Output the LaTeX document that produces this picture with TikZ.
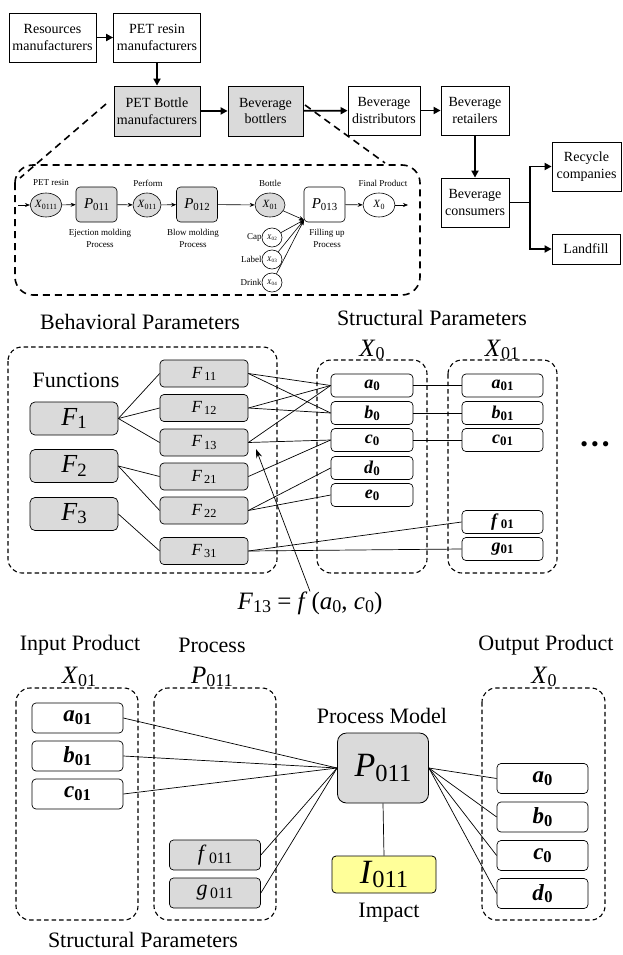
\documentclass[tikz,border=0pt]{standalone}
\usepackage{fontspec}
\setmainfont{Liberation Serif}
\usetikzlibrary{arrows.meta,shapes.geometric}
\definecolor{boxgray}{RGB}{218,218,218}
\definecolor{boxyellow}{RGB}{255,255,153}
\newcommand{\vv}[2]{\textit{#1}\raisebox{-0.12em}{\scalebox{0.72}{#2}}}
\newcommand{\vb}[2]{\textbf{\textit{#1}}\raisebox{-0.12em}{\scalebox{0.72}{\textbf{#2}}}}
\newcommand{\fs}[1]{\fontsize{#1}{#1}\selectfont}
\begin{document}
\begin{tikzpicture}[x=1pt,y=-1pt,
  chain/.style={draw, line width=0.8pt, align=center, inner sep=0pt, font=\fontsize{14}{16.5}\selectfont},
  chainarr/.style={line width=1.8pt, -{Triangle[length=7pt,width=7pt]}},
  pbox/.style={draw, line width=0.6pt, rounded corners=4pt, inner sep=0pt, minimum width=41pt, minimum height=35pt, font=\fs{15}},
  pell/.style={draw, line width=0.6pt, ellipse, inner sep=0pt, minimum width=28pt, minimum height=24pt, font=\fs{11}},
  sell/.style={draw, line width=0.6pt, ellipse, inner sep=0pt, minimum width=20pt, minimum height=19pt, font=\fs{7}},
  tinytxt/.style={font=\fontsize{9}{12.5}\selectfont, align=center, inner sep=0pt},
  parr/.style={line width=0.6pt, -{Stealth[length=5pt,width=4pt]}},
  dbox/.style={draw, dash pattern=on 4.5pt off 3pt, line width=1.1pt, rounded corners=14pt},
  bigdash/.style={draw, dash pattern=on 7pt off 5pt, line width=1.6pt},
  fbig/.style={draw, line width=0.7pt, fill=boxgray, rounded corners=5pt, minimum width=88pt, minimum height=33pt, inner sep=0pt, font=\fs{26}},
  fsmall/.style={draw, line width=0.7pt, fill=boxgray, rounded corners=4pt, minimum width=88pt, minimum height=27pt, inner sep=0pt, font=\fs{17}},
  var/.style={draw, line width=0.7pt, rounded corners=4pt, minimum width=82pt, minimum height=23pt, inner sep=0pt, font=\fs{18}},
  varb/.style={draw, line width=0.7pt, rounded corners=4pt, minimum width=91pt, minimum height=30pt, inner sep=0pt, font=\fs{23}},
  head/.style={font=\fs{22}, inner sep=0pt},
  xhead/.style={font=\fs{25}, inner sep=0pt},
  conn/.style={line width=0.7pt}
]
\useasboundingbox (0,0) rectangle (623,955);

% ---------------- supply chain ----------------
\node[chain, minimum width=87pt, minimum height=49pt] (res) at (52.5,37.5) {Resources\\manufacturers};
\node[chain, minimum width=87pt, minimum height=49pt] (resin) at (157,37.5) {PET resin\\manufacturers};
\node[chain, fill=boxgray, minimum width=86pt, minimum height=50pt] (petb) at (157,111) {PET Bottle\\manufacturers};
\node[chain, fill=boxgray, minimum width=75pt, minimum height=50pt] (bott) at (265.5,111) {Beverage\\bottlers};
\node[chain, minimum width=72pt, minimum height=49pt] (dist) at (384,110.5) {Beverage\\distributors};
\node[chain, minimum width=68pt, minimum height=49pt] (ret) at (475,110.5) {Beverage\\retailers};
\node[chain, minimum width=68pt, minimum height=49pt] (cons) at (475,202.5) {Beverage\\consumers};
\node[chain, minimum width=69pt, minimum height=49pt] (rec) at (586.5,166.5) {Recycle\\companies};
\node[chain, minimum width=68pt, minimum height=30pt] (land) at (586,249) {Landfill};
\coordinate (br) at (530,202.5);

\draw[chainarr] (res) -- (resin);
\draw[chainarr] (resin) -- (petb);
\draw[chainarr] (petb) -- (bott);
\draw[chainarr] (bott) -- (dist);
\draw[chainarr] (dist) -- (ret);
\draw[chainarr] (ret) -- (cons);
\draw[line width=1.8pt] (cons.east) -- (br);
\draw[chainarr] (br) |- (rec.west);
\draw[chainarr] (br) |- (land.west);

% zoom lines and process box
\coordinate (zl1) at (106,104);
\coordinate (zl2) at (20,178);
\coordinate (zr1) at (305,105);
\coordinate (zr2) at (385,163);
\draw[bigdash] (zl1) -- (zl2);
\draw[bigdash] (zr1) -- (zr2);
\draw[bigdash, rounded corners=18pt] (15,165) rectangle (420,295);

% process chain
\coordinate (pin) at (18,205);
\node[pell, fill=boxgray] (xin) at (46,205) {\vv{X}{0111}};
\node[pbox, fill=boxgray] (p011) at (96.5,204.5) {\vv{P}{011}};
\node[pell, fill=boxgray] (x011) at (147,205) {\vv{X}{011}};
\node[pbox, fill=boxgray] (p012) at (197,204.5) {\vv{P}{012}};
\node[pell, fill=boxgray, minimum width=30pt] (x01) at (270,205) {\vv{X}{01}};
\node[pbox, fill=white] (p013) at (324.5,204.5) {\vv{P}{013}};
\node[pell, fill=white, minimum width=32pt] (x0) at (379,205) {\vv{X}{0}};
\coordinate (pout) at (408,205);
\coordinate (conv) at (304,220);
\node[sell] (x02) at (272,237.5) {\vv{X}{02}};
\node[sell] (x03) at (272,259.5) {\vv{X}{03}};
\node[sell] (x04) at (272,282.5) {\vv{X}{04}};
\node[tinytxt, anchor=east] (lcap) at (x02.west) {Cap};
\node[tinytxt, anchor=east] (llab) at (x03.west) {Label};
\node[tinytxt, anchor=east] (ldri) at (x04.west) {Drink};

\node[tinytxt] (tpet) at (51,183) {PET resin};
\node[tinytxt] (tperf) at (148,183) {Perform};
\node[tinytxt] (tbot) at (270,183) {Bottle};
\node[tinytxt] (tfin) at (383,183) {Final Product};
\node[tinytxt] (tej) at (100,238.5) {Ejection molding\\Process};
\node[tinytxt] (tbl) at (193,238.5) {Blow molding\\Process};
\node[tinytxt] (tfil) at (327,238.5) {Filling up\\Process};

\draw[parr] (pin) -- (xin);
\draw[parr] (xin) -- (p011);
\draw[parr] (p011) -- (x011);
\draw[parr] (x011) -- (p012);
\draw[parr] (p012) -- (x01);
\draw[parr] (x01) -- (conv);
\draw[parr] (x02) -- (conv);
\draw[parr] (x03) -- (conv);
\draw[parr] (x04) -- (conv);
\draw[parr] (p013) -- (x0);
\draw[parr] (x0) -- (pout);

% ---------------- behavioral / structural ----------------
\node[head] (hbeh) at (140,322) {Behavioral Parameters};
\node[head] (hstr) at (432,318) {Structural Parameters};
\node[xhead] (lx0) at (372,350) {\vv{X}{0}};
\node[xhead] (lx01) at (502,350) {\vv{X}{01}};
\draw[dbox] (8,347) rectangle (277,573);
\draw[dbox] (317,360) rectangle (427,573);
\draw[dbox] (448,360) rectangle (557,573);

\node[head] (func) at (76,380) {Functions};
\node[fbig] (F1) at (74,418.5) {\vv{F}{1}};
\node[fbig] (F2) at (74,466) {\vv{F}{2}};
\node[fbig] (F3) at (74,514) {\vv{F}{3}};
\node[fsmall] (F11) at (204,373.5) {\vv{F}{\,11}};
\node[fsmall] (F12) at (204,408) {\vv{F}{\,12}};
\node[fsmall] (F13) at (204,442.5) {\vv{F}{\,13}};
\node[fsmall] (F21) at (204,476.5) {\vv{F}{\,21}};
\node[fsmall] (F22) at (204,510.5) {\vv{F}{\,22}};
\node[fsmall] (F31) at (204,551) {\vv{F}{\,31}};

\node[var] (a0) at (372,385.5) {\vb{a}{0}};
\node[var] (b0) at (372,413) {\vb{b}{0}};
\node[var] (c0) at (372,440) {\vb{c}{0}};
\node[var] (d0) at (372,468) {\vb{d}{0}};
\node[var] (e0) at (372,495) {\vb{e}{0}};
\node[var, minimum width=81pt] (a01) at (502.5,385.5) {\vb{a}{01}};
\node[var, minimum width=81pt] (b01) at (502.5,413) {\vb{b}{01}};
\node[var, minimum width=81pt] (c01) at (502.5,440) {\vb{c}{01}};
\node[var, minimum width=81pt] (f01) at (502.5,522) {\vb{f}{\,01}};
\node[var, minimum width=81pt] (g01) at (502.5,549) {\vb{g}{01}};
\node[inner sep=0pt, font=\fs{22}] (dots) at (595,447) {\textbullet\hspace{3pt}\textbullet\hspace{3pt}\textbullet};

\draw[conn] (F1.east) -- (F11.west);
\draw[conn] (F1.east) -- (F12.west);
\draw[conn] (F1.east) -- (F13.west);
\draw[conn] (F2.east) -- (F21.west);
\draw[conn] (F2.east) -- (F22.west);
\draw[conn] (F3.east) -- (F31.west);
\draw[conn] (F11.east) -- (a0.west);
\draw[conn] (F11.east) -- (b0.west);
\draw[conn] (F12.east) -- (a0.west);
\draw[conn] (F12.east) -- (b0.west);
\draw[conn] (F13.east) -- (a0.west);
\draw[conn] (F13.east) -- (c0.west);
\draw[conn] (F21.east) -- (c0.west);
\draw[conn] (F22.east) -- (d0.west);
\draw[conn] (F22.east) -- (e0.west);
\draw[conn] (F31.east) -- (f01.west);
\draw[conn] (F31.east) -- (g01.west);
\draw[conn] (a0.east) -- (a01.west);
\draw[conn] (b0.east) -- (b01.west);
\draw[conn] (c0.east) -- (c01.west);

\node[inner sep=0pt, font=\fs{25}] (form) at (310,603) {\vv{F}{13} = \textit{f}\,(\vv{a}{0}, \vv{c}{0})};
\coordinate (fa) at (256,449);
\draw[conn, -{Stealth[length=9pt,width=6pt]}] (form.north) -- (fa);

% ---------------- process model ----------------
\node[head] (hin) at (80,645) {Input Product};
\node[head] (hpr) at (212,645) {Process};
\node[head] (hout) at (546,645) {Output Product};
\node[xhead] (bx01) at (79,677) {\vv{X}{01}};
\node[xhead] (bp011) at (212,677) {\vv{P}{011}};
\node[xhead] (bx0) at (544,677) {\vv{X}{0}};
\draw[dbox] (16,688) rectangle (138,920);
\draw[dbox] (154,688) rectangle (276,920);
\draw[dbox] (482,688) rectangle (605,920);

\node[varb] (ba01) at (77.5,718) {\vb{a}{01}};
\node[varb] (bb01) at (77.5,756) {\vb{b}{01}};
\node[varb] (bc01) at (77.5,794) {\vb{c}{01}};
\node[varb, fill=boxgray, font=\fs{22}] (bf011) at (215,855) {\vv{f}{\,011}};
\node[varb, fill=boxgray, font=\fs{22}] (bg011) at (215,893) {\vv{g}{\,011}};

\node[head] (hpm) at (382,716) {Process Model};
\node[draw, line width=0.8pt, fill=boxgray, rounded corners=9pt, minimum width=91pt, minimum height=70pt, inner sep=0pt, font=\fs{34}] (P) at (383,768) {\vv{P}{011}};
\node[draw, line width=0.8pt, fill=boxyellow, rounded corners=4pt, minimum width=104pt, minimum height=37pt, inner sep=0pt, font=\fs{34}] (I) at (384,874.5) {\vv{I}{011}};
\node[head] (himp) at (389,913) {Impact};

\node[varb] (ba0) at (542.5,778.5) {\vb{a}{0}};
\node[varb] (bb0) at (542.5,817) {\vb{b}{0}};
\node[varb] (bc0) at (542.5,855.5) {\vb{c}{0}};
\node[varb] (bd0) at (542.5,893.5) {\vb{d}{0}};

\node[head] (hstr2) at (143,940) {Structural Parameters};

\draw[conn] (ba01.east) -- (P.west);
\draw[conn] (bb01.east) -- (P.west);
\draw[conn] (bc01.east) -- (P.west);
\draw[conn] (bf011.east) -- (P.west);
\draw[conn] (bg011.east) -- (P.west);
\draw[conn] (P.east) -- (ba0.west);
\draw[conn] (P.east) -- (bb0.west);
\draw[conn] (P.east) -- (bc0.west);
\draw[conn] (P.east) -- (bd0.west);
\draw[conn] (P.south) -- (I.north);
\end{tikzpicture}
\end{document}
